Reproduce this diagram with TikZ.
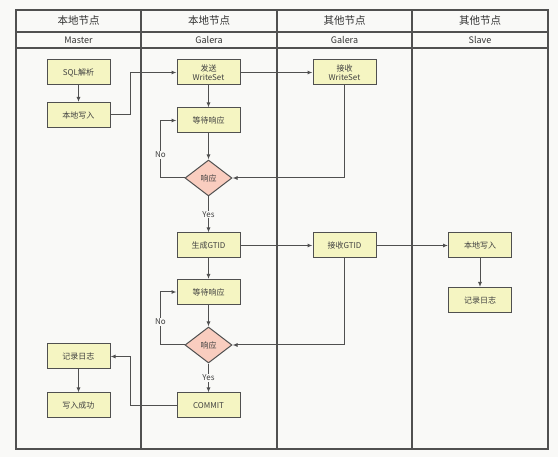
\documentclass[tikz,border=0pt]{standalone}
\usepackage{fontspec}
\setmainfont{Noto Sans CJK SC}
\usetikzlibrary{arrows.meta,shapes.geometric}

\definecolor{paper}{HTML}{F9F9F7}
\definecolor{stepfill}{HTML}{F5F5C2}
\definecolor{askfill}{HTML}{F9CDBF}
\definecolor{edge}{HTML}{505050}

\begin{document}
\begin{tikzpicture}[x=1pt, y=-1pt,
  box/.style={draw=edge, line width=1pt, fill=stepfill, minimum width=63pt, minimum height=25pt, align=center, inner sep=1pt, font=\fontsize{8}{9}\selectfont, text=black!75},
  decision/.style={diamond, draw=edge, line width=1pt, fill=askfill, minimum width=47pt, minimum height=36pt, inner sep=0pt, font=\fontsize{8}{9}\selectfont, text=black!75},
  lane/.style={font=\fontsize{10.5}{12}\selectfont, text=black!80},
  sublane/.style={font=\fontsize{9}{10}\selectfont, text=black!80},
  tag/.style={fill=paper, inner sep=1pt, font=\fontsize{8}{9}\selectfont, text=black!75},
  arr/.style={-{Latex[length=5pt,width=4pt]}, draw=edge, line width=1pt}
]
\useasboundingbox[fill=paper] (0,0) rectangle (558,457);

% swimlanes
\draw[edge, line width=1.2pt] (16,10) rectangle (548,449);
\draw[edge, line width=1.2pt] (16,32) -- (548,32);
\draw[edge, line width=1.2pt] (16,48) -- (548,48);
\foreach \x in {141,277,412}
  \draw[edge, line width=1.2pt] (\x,10) -- (\x,449);

\node[lane] (h1) at (78.5,21) {本地节点};
\node[lane] (h2) at (209,21) {本地节点};
\node[lane] (h3) at (344.5,21) {其他节点};
\node[lane] (h4) at (480,21) {其他节点};
\node[sublane] (s1) at (78.5,40) {Master};
\node[sublane] (s2) at (209,40) {Galera};
\node[sublane] (s3) at (344.5,40) {Galera};
\node[sublane] (s4) at (480,40) {Slave};

% steps
\node[box] (sql) at (78.5,72.5) {SQL解析};
\node[box] (mwrite) at (78.5,115) {本地写入};
\node[box] (mlog) at (78.5,356.5) {记录日志};
\node[box] (msucc) at (78.5,405.5) {写入成功};

\node[box] (send) at (208.5,72.5) {发送\\WriteSet};
\node[box] (wait1) at (208.5,120.5) {等待响应};
\node[decision] (resp1) at (208.5,178) {响应};
\node[box] (gtid) at (208.5,245.5) {生成GTID};
\node[box] (wait2) at (208.5,292) {等待响应};
\node[decision] (resp2) at (208.5,345) {响应};
\node[box] (commit) at (208.5,405.5) {COMMIT};

\node[box] (recvws) at (344.5,72.5) {接收\\WriteSet};
\node[box] (recvgtid) at (344.5,245.5) {接收GTID};

\node[box] (swrite) at (480,245.5) {本地写入};
\node[box] (slog) at (480,300) {记录日志};

% flow
\draw[arr] (sql) -- (mwrite);
\draw[arr] (mwrite.east) -- ++(20,0) |- (send.west);
\draw[arr] (send) -- (recvws);
\draw[arr] (send) -- (wait1);
\draw[arr] (wait1) -- (resp1);
\draw[arr] (resp1.west) -- ++(-24,0) |- node[tag, pos=0.2] {No} (wait1.west);
\draw[arr] (recvws.south) |- (resp1.east);
\draw[arr] (resp1) -- node[tag] {Yes} (gtid);
\draw[arr] (gtid) -- (recvgtid);
\draw[arr] (gtid) -- (wait2);
\draw[arr] (wait2) -- (resp2);
\draw[arr] (resp2.west) -- ++(-24,0) |- node[tag, pos=0.22] {No} (wait2.west);
\draw[arr] (recvgtid.south) |- (resp2.east);
\draw[arr] (resp2) -- node[tag] {Yes} (commit);
\draw[arr] (commit.west) -- ++(-46,0) |- (mlog.east);
\draw[arr] (mlog) -- (msucc);
\draw[arr] (recvgtid) -- (swrite);
\draw[arr] (swrite) -- (slog);
\end{tikzpicture}
\end{document}
